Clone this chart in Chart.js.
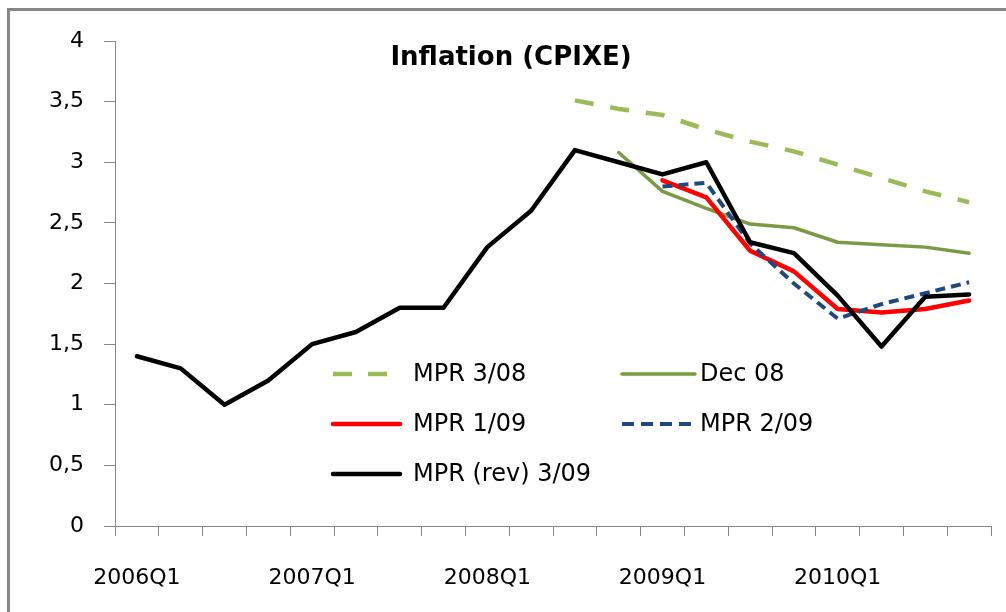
<!DOCTYPE html>
<html>
<head>
<meta charset="utf-8">
<script src="https://cdn.jsdelivr.net/npm/chart.js@4"></script>
<style>
    html, body { margin: 0; padding: 0; background: #fff; overflow: hidden; }
    .frame {
        position: absolute; left: 7px; top: 8px;
        width: 1100px; height: 700px;
        border: 3px solid #868686;
    }
    .wrap { position: absolute; left: 0; top: 0; width: 1006px; height: 612px; }
</style>
</head>
<body>
<div class="frame"></div>
<div class="wrap"><canvas id="mainChart" width="1006" height="612"></canvas></div>
<script>
// Chart data
const quarters = [
    '2006Q1', '2006Q2', '2006Q3', '2006Q4',
    '2007Q1', '2007Q2', '2007Q3', '2007Q4',
    '2008Q1', '2008Q2', '2008Q3', '2008Q4',
    '2009Q1', '2009Q2', '2009Q3', '2009Q4',
    '2010Q1', '2010Q2', '2010Q3', '2010Q4'
];
const mpr308 = [null, null, null, null, null, null, null, null, null, null,
    3.51, 3.44, 3.39, 3.27, 3.17, 3.09, 2.98, 2.87, 2.76, 2.67];
const dec08 = [null, null, null, null, null, null, null, null, null, null, null,
    3.08, 2.76, 2.62, 2.49, 2.46, 2.34, 2.32, 2.30, 2.25];
const mpr109 = [null, null, null, null, null, null, null, null, null, null, null, null,
    2.85, 2.71, 2.27, 2.10, 1.79, 1.76, 1.79, 1.86];
const mpr209 = [null, null, null, null, null, null, null, null, null, null, null, null,
    2.80, 2.83, 2.33, 2.00, 1.71, 1.83, 1.92, 2.01];
const mprRev309 = [1.4, 1.3, 1.0, 1.2, 1.5, 1.6, 1.8, 1.8, 2.3, 2.6, 3.1, 3.0,
    2.9, 3.0, 2.34, 2.25, 1.9, 1.48, 1.89, 1.91];
const yTicks = [0, 0.5, 1, 1.5, 2, 2.5, 3, 3.5, 4];

const FONT = "'DejaVu Sans', sans-serif";
const AXIS_GREY = '#868686';

// legend slots inside the plot (x of sample start, y of row)
const legendSlots = [
    { x: 333, y: 374 }, { x: 622, y: 374 },
    { x: 333, y: 424 }, { x: 622, y: 424 },
    { x: 333, y: 474 }
];

const insideLegend = {
    id: 'insideLegend',
    afterDraw(chart) {
        const ctx = chart.ctx;
        ctx.save();
        chart.data.datasets.forEach((ds, i) => {
            const slot = legendSlots[i];
            ctx.beginPath();
            ctx.strokeStyle = ds.borderColor;
            ctx.lineWidth = ds.borderWidth;
            ctx.lineCap = ds.borderCapStyle || 'butt';
            ctx.setLineDash(ds.legendDash || []);
            ctx.moveTo(slot.x, slot.y);
            ctx.lineTo(slot.x + ds.legendLen, slot.y);
            ctx.stroke();
            ctx.setLineDash([]);
            ctx.fillStyle = '#000';
            ctx.font = '24px ' + FONT;
            ctx.textBaseline = 'middle';
            ctx.textAlign = 'left';
            ctx.fillText(ds.label, slot.x + (i % 2 === 0 ? 80 : 78), slot.y + 1);
        });
        // title
        ctx.font = 'bold 26px ' + FONT;
        ctx.textAlign = 'center';
        ctx.fillText('Inflation (CPIXE)', 511, 58);
        ctx.restore();
    }
};

const ctx = document.getElementById('mainChart');
new Chart(ctx, {
    type: 'line',
    data: {
        labels: quarters,
        datasets: [
            {
                label: 'MPR 3/08',
                data: mpr308,
                borderColor: '#9BBB59',
                borderWidth: 4.5,
                borderDash: [19, 17],
                legendDash: [19, 16],
                legendLen: 56,
                order: 5
            },
            {
                label: 'Dec 08',
                data: dec08,
                borderColor: '#7A9A43',
                borderWidth: 3.5,
                borderCapStyle: 'round',
                legendLen: 73,
                order: 4
            },
            {
                label: 'MPR 1/09',
                data: mpr109,
                borderColor: '#FF0000',
                borderWidth: 4.5,
                borderCapStyle: 'round',
                legendLen: 67,
                order: 3
            },
            {
                label: 'MPR 2/09',
                data: mpr209,
                borderColor: '#1F497D',
                borderWidth: 4,
                borderDash: [10, 6],
                legendDash: [12, 7],
                legendLen: 71,
                order: 2
            },
            {
                label: 'MPR (rev) 3/09',
                data: mprRev309,
                borderColor: '#000000',
                borderWidth: 4.5,
                borderCapStyle: 'round',
                legendLen: 67,
                order: 1
            }
        ]
    },
    options: {
        responsive: false,
        animation: false,
        spanGaps: false,
        layout: { padding: { top: 41, right: 15, left: 0, bottom: 0 } },
        elements: {
            point: { radius: 0, hoverRadius: 0 },
            line: { tension: 0, borderJoinStyle: 'round' }
        },
        plugins: {
            legend: { display: false },
            title: { display: false },
            tooltip: { enabled: false }
        },
        scales: {
            x: {
                offset: true,
                grid: {
                    offset: true,
                    drawOnChartArea: false,
                    tickLength: 10,
                    color: AXIS_GREY,
                    lineWidth: 1
                },
                border: { color: AXIS_GREY, width: 1 },
                ticks: {
                    autoSkip: false,
                    maxRotation: 0,
                    padding: 29,
                    color: '#000',
                    font: { family: FONT, size: 22 },
                    callback: function(value, index) {
                        return index % 4 === 0 ? quarters[index] : '';
                    }
                },
                afterFit: function(scale) { scale.height = 86; }
            },
            y: {
                min: 0,
                max: 4,
                afterBuildTicks: function(scale) {
                    scale.ticks = yTicks.map(v => ({ value: v }));
                },
                grid: {
                    drawOnChartArea: false,
                    tickLength: 11,
                    color: AXIS_GREY,
                    lineWidth: 1
                },
                border: { color: AXIS_GREY, width: 1 },
                ticks: {
                    padding: 20,
                    color: '#000',
                    font: { family: FONT, size: 22 },
                    callback: function(value) {
                        return String(value).replace('.', ',');
                    }
                },
                afterFit: function(scale) { scale.width = 115; }
            }
        }
    },
    plugins: [insideLegend]
});
</script>
</body>
</html>
